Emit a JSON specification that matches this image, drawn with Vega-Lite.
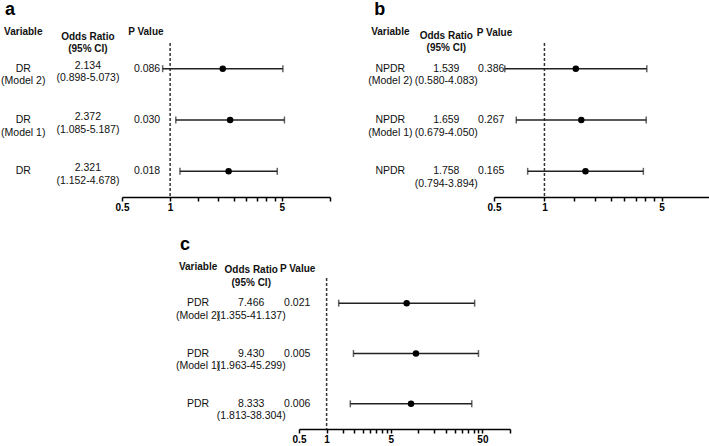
{
  "$schema": "https://vega.github.io/schema/vega-lite/v6.json",
  "padding": {"left": 1, "top": 0, "right": 0, "bottom": 0},
  "datasets": {
    "a": [
      {"row": "Model 2", "label": "DR\n(Model 2)", "or": 2.134, "lo": 0.898, "hi": 5.073, "ortext": "2.134\n(0.898-5.073)", "p": "0.086"},
      {"row": "Model 1", "label": "DR\n(Model 1)", "or": 2.372, "lo": 1.085, "hi": 5.187, "ortext": "2.372\n(1.085-5.187)", "p": "0.030"},
      {"row": "Crude", "label": "DR", "or": 2.321, "lo": 1.152, "hi": 4.678, "ortext": "2.321\n(1.152-4.678)", "p": "0.018"}
    ],
    "b": [
      {"row": "Model 2", "label": "NPDR\n(Model 2)", "or": 1.539, "lo": 0.580, "hi": 4.083, "ortext": "1.539\n(0.580-4.083)", "p": "0.386"},
      {"row": "Model 1", "label": "NPDR\n(Model 1)", "or": 1.659, "lo": 0.679, "hi": 4.050, "ortext": "1.659\n(0.679-4.050)", "p": "0.267"},
      {"row": "Crude", "label": "NPDR", "or": 1.758, "lo": 0.794, "hi": 3.894, "ortext": "1.758\n(0.794-3.894)", "p": "0.165"}
    ],
    "c": [
      {"row": "Model 2", "label": "PDR\n(Model 2)", "or": 7.466, "lo": 1.355, "hi": 41.137, "ortext": "7.466\n(1.355-41.137)", "p": "0.021"},
      {"row": "Model 1", "label": "PDR\n(Model 1)", "or": 9.430, "lo": 1.963, "hi": 45.299, "ortext": "9.430\n(1.963-45.299)", "p": "0.005"},
      {"row": "Crude", "label": "PDR", "or": 8.333, "lo": 1.813, "hi": 38.304, "ortext": "8.333\n(1.813-38.304)", "p": "0.006"}
    ]
  },
  "vconcat": [
    {
      "spacing": 37,
      "hconcat": [
        {
          "title": {"text": "a", "dx": 4},
          "width": 208, "height": 154,
          "data": {"name": "a"},
          "layer": [
            {"data": {"values": [{}]}, "mark": {"type": "rule", "strokeDash": [3, 2], "strokeWidth": 1.5, "color": "#333"},
             "encoding": {"x": {"datum": 1, "type": "quantitative", "scale": {"type": "log", "domain": [0.5, 10], "nice": false}, "axis": {"values": [0.5,1,1.5,2,2.5,3,3.5,4,4.5,5,10], "title": null, "labelExpr": "datum.value==0.5||datum.value==1||datum.value==5||datum.value==50?''+datum.value:''"}}}},
            {"mark": {"type": "rule", "strokeWidth": 1.5, "color": "#222"},
             "encoding": {"x": {"field": "lo", "type": "quantitative", "scale": {"type": "log", "domain": [0.5, 10], "nice": false}, "axis": {"values": [0.5,1,1.5,2,2.5,3,3.5,4,4.5,5,10], "title": null, "labelExpr": "datum.value==0.5||datum.value==1||datum.value==5||datum.value==50?''+datum.value:''"}}, "x2": {"field": "hi"},
              "y": {"field": "row", "type": "nominal", "sort": ["Model 2", "Model 1", "Crude"], "scale": {"type": "point", "padding": 0.5}, "axis": null}}},
            {"mark": {"type": "tick", "thickness": 1.5, "size": 7, "color": "#222"},
             "encoding": {"x": {"field": "lo", "type": "quantitative", "scale": {"type": "log", "domain": [0.5, 10], "nice": false}, "axis": {"values": [0.5,1,1.5,2,2.5,3,3.5,4,4.5,5,10], "title": null, "labelExpr": "datum.value==0.5||datum.value==1||datum.value==5||datum.value==50?''+datum.value:''"}},
              "y": {"field": "row", "type": "nominal", "sort": ["Model 2", "Model 1", "Crude"], "scale": {"type": "point", "padding": 0.5}, "axis": null}}},
            {"mark": {"type": "tick", "thickness": 1.5, "size": 7, "color": "#222"},
             "encoding": {"x": {"field": "hi", "type": "quantitative", "scale": {"type": "log", "domain": [0.5, 10], "nice": false}, "axis": {"values": [0.5,1,1.5,2,2.5,3,3.5,4,4.5,5,10], "title": null, "labelExpr": "datum.value==0.5||datum.value==1||datum.value==5||datum.value==50?''+datum.value:''"}},
              "y": {"field": "row", "type": "nominal", "sort": ["Model 2", "Model 1", "Crude"], "scale": {"type": "point", "padding": 0.5}, "axis": null}}},
            {"mark": {"type": "circle", "size": 42, "color": "#000", "opacity": 1},
             "encoding": {"x": {"field": "or", "type": "quantitative", "scale": {"type": "log", "domain": [0.5, 10], "nice": false}, "axis": {"values": [0.5,1,1.5,2,2.5,3,3.5,4,4.5,5,10], "title": null, "labelExpr": "datum.value==0.5||datum.value==1||datum.value==5||datum.value==50?''+datum.value:''"}},
              "y": {"field": "row", "type": "nominal", "sort": ["Model 2", "Model 1", "Crude"], "scale": {"type": "point", "padding": 0.5}, "axis": null}}},
            {"mark": {"type": "text", "lineBreak": "\n", "lineHeight": 12.5},
             "encoding": {"x": {"datum": 0.1206, "type": "quantitative", "scale": {"type": "log", "domain": [0.5, 10], "nice": false}, "axis": {"values": [0.5,1,1.5,2,2.5,3,3.5,4,4.5,5,10], "title": null, "labelExpr": "datum.value==0.5||datum.value==1||datum.value==5||datum.value==50?''+datum.value:''"}},
              "y": {"field": "row", "type": "nominal", "sort": ["Model 2", "Model 1", "Crude"], "scale": {"type": "point", "padding": 0.5}, "axis": null}, "text": {"field": "label"}}},
            {"mark": {"type": "text", "lineBreak": "\n", "lineHeight": 12.5, "dy": -3},
             "encoding": {"x": {"datum": 0.306, "type": "quantitative", "scale": {"type": "log", "domain": [0.5, 10], "nice": false}, "axis": {"values": [0.5,1,1.5,2,2.5,3,3.5,4,4.5,5,10], "title": null, "labelExpr": "datum.value==0.5||datum.value==1||datum.value==5||datum.value==50?''+datum.value:''"}},
              "y": {"field": "row", "type": "nominal", "sort": ["Model 2", "Model 1", "Crude"], "scale": {"type": "point", "padding": 0.5}, "axis": null}, "text": {"field": "ortext"}}},
            {"mark": {"type": "text"},
             "encoding": {"x": {"datum": 0.717, "type": "quantitative", "scale": {"type": "log", "domain": [0.5, 10], "nice": false}, "axis": {"values": [0.5,1,1.5,2,2.5,3,3.5,4,4.5,5,10], "title": null, "labelExpr": "datum.value==0.5||datum.value==1||datum.value==5||datum.value==50?''+datum.value:''"}},
              "y": {"field": "row", "type": "nominal", "sort": ["Model 2", "Model 1", "Crude"], "scale": {"type": "point", "padding": 0.5}, "axis": null}, "text": {"field": "p"}}},
            {"data": {"values": [{}]}, "mark": {"type": "text", "fontWeight": "bold", "fontSize": 10, "dy": -37},
             "encoding": {"x": {"datum": 0.1206, "type": "quantitative", "scale": {"type": "log", "domain": [0.5, 10], "nice": false}, "axis": {"values": [0.5,1,1.5,2,2.5,3,3.5,4,4.5,5,10], "title": null, "labelExpr": "datum.value==0.5||datum.value==1||datum.value==5||datum.value==50?''+datum.value:''"}},
              "y": {"datum": "Model 2", "type": "nominal", "sort": ["Model 2", "Model 1", "Crude"], "scale": {"type": "point", "padding": 0.5}, "axis": null}, "text": {"value": "Variable"}}},
            {"data": {"values": [{}]}, "mark": {"type": "text", "fontWeight": "bold", "fontSize": 10, "dy": -32, "lineBreak": "\n", "lineHeight": 12.5},
             "encoding": {"x": {"datum": 0.306, "type": "quantitative", "scale": {"type": "log", "domain": [0.5, 10], "nice": false}, "axis": {"values": [0.5,1,1.5,2,2.5,3,3.5,4,4.5,5,10], "title": null, "labelExpr": "datum.value==0.5||datum.value==1||datum.value==5||datum.value==50?''+datum.value:''"}},
              "y": {"datum": "Model 2", "type": "nominal", "sort": ["Model 2", "Model 1", "Crude"], "scale": {"type": "point", "padding": 0.5}, "axis": null}, "text": {"value": "Odds Ratio\n(95% CI)"}}},
            {"data": {"values": [{}]}, "mark": {"type": "text", "fontWeight": "bold", "fontSize": 10, "dy": -37},
             "encoding": {"x": {"datum": 0.705, "type": "quantitative", "scale": {"type": "log", "domain": [0.5, 10], "nice": false}, "axis": {"values": [0.5,1,1.5,2,2.5,3,3.5,4,4.5,5,10], "title": null, "labelExpr": "datum.value==0.5||datum.value==1||datum.value==5||datum.value==50?''+datum.value:''"}},
              "y": {"datum": "Model 2", "type": "nominal", "sort": ["Model 2", "Model 1", "Crude"], "scale": {"type": "point", "padding": 0.5}, "axis": null}, "text": {"value": "P Value"}}}
          ]
        },
        {
          "title": {"text": "b", "dx": 6},
          "width": 218, "height": 154,
          "data": {"name": "b"},
          "layer": [
            {"data": {"values": [{}]}, "mark": {"type": "rule", "strokeDash": [3, 2], "strokeWidth": 1.5, "color": "#333"},
             "encoding": {"x": {"datum": 1, "type": "quantitative", "scale": {"type": "log", "domain": [0.5, 10], "nice": false}, "axis": {"values": [0.5,1,1.5,2,2.5,3,3.5,4,4.5,5,10], "title": null, "labelExpr": "datum.value==0.5||datum.value==1||datum.value==5||datum.value==50?''+datum.value:''"}}}},
            {"mark": {"type": "rule", "strokeWidth": 1.5, "color": "#222"},
             "encoding": {"x": {"field": "lo", "type": "quantitative", "scale": {"type": "log", "domain": [0.5, 10], "nice": false}, "axis": {"values": [0.5,1,1.5,2,2.5,3,3.5,4,4.5,5,10], "title": null, "labelExpr": "datum.value==0.5||datum.value==1||datum.value==5||datum.value==50?''+datum.value:''"}}, "x2": {"field": "hi"},
              "y": {"field": "row", "type": "nominal", "sort": ["Model 2", "Model 1", "Crude"], "scale": {"type": "point", "padding": 0.5}, "axis": null}}},
            {"mark": {"type": "tick", "thickness": 1.5, "size": 7, "color": "#222"},
             "encoding": {"x": {"field": "lo", "type": "quantitative", "scale": {"type": "log", "domain": [0.5, 10], "nice": false}, "axis": {"values": [0.5,1,1.5,2,2.5,3,3.5,4,4.5,5,10], "title": null, "labelExpr": "datum.value==0.5||datum.value==1||datum.value==5||datum.value==50?''+datum.value:''"}},
              "y": {"field": "row", "type": "nominal", "sort": ["Model 2", "Model 1", "Crude"], "scale": {"type": "point", "padding": 0.5}, "axis": null}}},
            {"mark": {"type": "tick", "thickness": 1.5, "size": 7, "color": "#222"},
             "encoding": {"x": {"field": "hi", "type": "quantitative", "scale": {"type": "log", "domain": [0.5, 10], "nice": false}, "axis": {"values": [0.5,1,1.5,2,2.5,3,3.5,4,4.5,5,10], "title": null, "labelExpr": "datum.value==0.5||datum.value==1||datum.value==5||datum.value==50?''+datum.value:''"}},
              "y": {"field": "row", "type": "nominal", "sort": ["Model 2", "Model 1", "Crude"], "scale": {"type": "point", "padding": 0.5}, "axis": null}}},
            {"mark": {"type": "circle", "size": 42, "color": "#000", "opacity": 1},
             "encoding": {"x": {"field": "or", "type": "quantitative", "scale": {"type": "log", "domain": [0.5, 10], "nice": false}, "axis": {"values": [0.5,1,1.5,2,2.5,3,3.5,4,4.5,5,10], "title": null, "labelExpr": "datum.value==0.5||datum.value==1||datum.value==5||datum.value==50?''+datum.value:''"}},
              "y": {"field": "row", "type": "nominal", "sort": ["Model 2", "Model 1", "Crude"], "scale": {"type": "point", "padding": 0.5}, "axis": null}}},
            {"mark": {"type": "text", "lineBreak": "\n", "lineHeight": 12.5},
             "encoding": {"x": {"datum": 0.1203, "type": "quantitative", "scale": {"type": "log", "domain": [0.5, 10], "nice": false}, "axis": {"values": [0.5,1,1.5,2,2.5,3,3.5,4,4.5,5,10], "title": null, "labelExpr": "datum.value==0.5||datum.value==1||datum.value==5||datum.value==50?''+datum.value:''"}},
              "y": {"field": "row", "type": "nominal", "sort": ["Model 2", "Model 1", "Crude"], "scale": {"type": "point", "padding": 0.5}, "axis": null}, "text": {"field": "label"}}},
            {"mark": {"type": "text", "lineBreak": "\n", "lineHeight": 12.5},
             "encoding": {"x": {"datum": 0.2596, "type": "quantitative", "scale": {"type": "log", "domain": [0.5, 10], "nice": false}, "axis": {"values": [0.5,1,1.5,2,2.5,3,3.5,4,4.5,5,10], "title": null, "labelExpr": "datum.value==0.5||datum.value==1||datum.value==5||datum.value==50?''+datum.value:''"}},
              "y": {"field": "row", "type": "nominal", "sort": ["Model 2", "Model 1", "Crude"], "scale": {"type": "point", "padding": 0.5}, "axis": null}, "text": {"field": "ortext"}}},
            {"mark": {"type": "text"},
             "encoding": {"x": {"datum": 0.4814, "type": "quantitative", "scale": {"type": "log", "domain": [0.5, 10], "nice": false}, "axis": {"values": [0.5,1,1.5,2,2.5,3,3.5,4,4.5,5,10], "title": null, "labelExpr": "datum.value==0.5||datum.value==1||datum.value==5||datum.value==50?''+datum.value:''"}},
              "y": {"field": "row", "type": "nominal", "sort": ["Model 2", "Model 1", "Crude"], "scale": {"type": "point", "padding": 0.5}, "axis": null}, "text": {"field": "p"}}},
            {"data": {"values": [{}]}, "mark": {"type": "text", "fontWeight": "bold", "fontSize": 10, "dy": -37},
             "encoding": {"x": {"datum": 0.1203, "type": "quantitative", "scale": {"type": "log", "domain": [0.5, 10], "nice": false}, "axis": {"values": [0.5,1,1.5,2,2.5,3,3.5,4,4.5,5,10], "title": null, "labelExpr": "datum.value==0.5||datum.value==1||datum.value==5||datum.value==50?''+datum.value:''"}},
              "y": {"datum": "Model 2", "type": "nominal", "sort": ["Model 2", "Model 1", "Crude"], "scale": {"type": "point", "padding": 0.5}, "axis": null}, "text": {"value": "Variable"}}},
            {"data": {"values": [{}]}, "mark": {"type": "text", "fontWeight": "bold", "fontSize": 10, "dy": -33, "lineBreak": "\n", "lineHeight": 12.5},
             "encoding": {"x": {"datum": 0.2596, "type": "quantitative", "scale": {"type": "log", "domain": [0.5, 10], "nice": false}, "axis": {"values": [0.5,1,1.5,2,2.5,3,3.5,4,4.5,5,10], "title": null, "labelExpr": "datum.value==0.5||datum.value==1||datum.value==5||datum.value==50?''+datum.value:''"}},
              "y": {"datum": "Model 2", "type": "nominal", "sort": ["Model 2", "Model 1", "Crude"], "scale": {"type": "point", "padding": 0.5}, "axis": null}, "text": {"value": "Odds Ratio\n(95% CI)"}}},
            {"data": {"values": [{}]}, "mark": {"type": "text", "fontWeight": "bold", "fontSize": 10, "dy": -36},
             "encoding": {"x": {"datum": 0.5036, "type": "quantitative", "scale": {"type": "log", "domain": [0.5, 10], "nice": false}, "axis": {"values": [0.5,1,1.5,2,2.5,3,3.5,4,4.5,5,10], "title": null, "labelExpr": "datum.value==0.5||datum.value==1||datum.value==5||datum.value==50?''+datum.value:''"}},
              "y": {"datum": "Model 2", "type": "nominal", "sort": ["Model 2", "Model 1", "Crude"], "scale": {"type": "point", "padding": 0.5}, "axis": null}, "text": {"value": "P Value"}}}
          ]
        }
      ]
    },
    {
      "spacing": 0,
      "hconcat": [
        {"width": 53, "height": 10, "data": {"values": [{}]}, "mark": {"type": "rule", "opacity": 0}, "encoding": {}},
        {
          "title": {"text": "c", "dx": 4},
          "width": 211, "height": 151,
          "data": {"name": "c"},
          "layer": [
            {"data": {"values": [{}]}, "mark": {"type": "rule", "strokeDash": [3, 2], "strokeWidth": 1.5, "color": "#333"},
             "encoding": {"x": {"datum": 1, "type": "quantitative", "scale": {"type": "log", "domain": [0.5, 100], "nice": false}, "axis": {"values": [0.5,1,1.5,2,2.5,3,3.5,4,4.5,5,10,15,20,25,30,35,40,45,50,100], "title": null, "labelExpr": "datum.value==0.5||datum.value==1||datum.value==5||datum.value==50?''+datum.value:''"}}}},
            {"mark": {"type": "rule", "strokeWidth": 1.5, "color": "#222"},
             "encoding": {"x": {"field": "lo", "type": "quantitative", "scale": {"type": "log", "domain": [0.5, 100], "nice": false}, "axis": {"values": [0.5,1,1.5,2,2.5,3,3.5,4,4.5,5,10,15,20,25,30,35,40,45,50,100], "title": null, "labelExpr": "datum.value==0.5||datum.value==1||datum.value==5||datum.value==50?''+datum.value:''"}}, "x2": {"field": "hi"},
              "y": {"field": "row", "type": "nominal", "sort": ["Model 2", "Model 1", "Crude"], "scale": {"type": "point", "padding": 0.5}, "axis": null}}},
            {"mark": {"type": "tick", "thickness": 1.5, "size": 7, "color": "#222"},
             "encoding": {"x": {"field": "lo", "type": "quantitative", "scale": {"type": "log", "domain": [0.5, 100], "nice": false}, "axis": {"values": [0.5,1,1.5,2,2.5,3,3.5,4,4.5,5,10,15,20,25,30,35,40,45,50,100], "title": null, "labelExpr": "datum.value==0.5||datum.value==1||datum.value==5||datum.value==50?''+datum.value:''"}},
              "y": {"field": "row", "type": "nominal", "sort": ["Model 2", "Model 1", "Crude"], "scale": {"type": "point", "padding": 0.5}, "axis": null}}},
            {"mark": {"type": "tick", "thickness": 1.5, "size": 7, "color": "#222"},
             "encoding": {"x": {"field": "hi", "type": "quantitative", "scale": {"type": "log", "domain": [0.5, 100], "nice": false}, "axis": {"values": [0.5,1,1.5,2,2.5,3,3.5,4,4.5,5,10,15,20,25,30,35,40,45,50,100], "title": null, "labelExpr": "datum.value==0.5||datum.value==1||datum.value==5||datum.value==50?''+datum.value:''"}},
              "y": {"field": "row", "type": "nominal", "sort": ["Model 2", "Model 1", "Crude"], "scale": {"type": "point", "padding": 0.5}, "axis": null}}},
            {"mark": {"type": "circle", "size": 42, "color": "#000", "opacity": 1},
             "encoding": {"x": {"field": "or", "type": "quantitative", "scale": {"type": "log", "domain": [0.5, 100], "nice": false}, "axis": {"values": [0.5,1,1.5,2,2.5,3,3.5,4,4.5,5,10,15,20,25,30,35,40,45,50,100], "title": null, "labelExpr": "datum.value==0.5||datum.value==1||datum.value==5||datum.value==50?''+datum.value:''"}},
              "y": {"field": "row", "type": "nominal", "sort": ["Model 2", "Model 1", "Crude"], "scale": {"type": "point", "padding": 0.5}, "axis": null}}},
            {"mark": {"type": "text", "lineBreak": "\n", "lineHeight": 12.5},
             "encoding": {"x": {"datum": 0.0397, "type": "quantitative", "scale": {"type": "log", "domain": [0.5, 100], "nice": false}, "axis": {"values": [0.5,1,1.5,2,2.5,3,3.5,4,4.5,5,10,15,20,25,30,35,40,45,50,100], "title": null, "labelExpr": "datum.value==0.5||datum.value==1||datum.value==5||datum.value==50?''+datum.value:''"}},
              "y": {"field": "row", "type": "nominal", "sort": ["Model 2", "Model 1", "Crude"], "scale": {"type": "point", "padding": 0.5}, "axis": null}, "text": {"field": "label"}}},
            {"mark": {"type": "text", "lineBreak": "\n", "lineHeight": 12.5},
             "encoding": {"x": {"datum": 0.1507, "type": "quantitative", "scale": {"type": "log", "domain": [0.5, 100], "nice": false}, "axis": {"values": [0.5,1,1.5,2,2.5,3,3.5,4,4.5,5,10,15,20,25,30,35,40,45,50,100], "title": null, "labelExpr": "datum.value==0.5||datum.value==1||datum.value==5||datum.value==50?''+datum.value:''"}},
              "y": {"field": "row", "type": "nominal", "sort": ["Model 2", "Model 1", "Crude"], "scale": {"type": "point", "padding": 0.5}, "axis": null}, "text": {"field": "ortext"}}},
            {"mark": {"type": "text"},
             "encoding": {"x": {"datum": 0.4786, "type": "quantitative", "scale": {"type": "log", "domain": [0.5, 100], "nice": false}, "axis": {"values": [0.5,1,1.5,2,2.5,3,3.5,4,4.5,5,10,15,20,25,30,35,40,45,50,100], "title": null, "labelExpr": "datum.value==0.5||datum.value==1||datum.value==5||datum.value==50?''+datum.value:''"}},
              "y": {"field": "row", "type": "nominal", "sort": ["Model 2", "Model 1", "Crude"], "scale": {"type": "point", "padding": 0.5}, "axis": null}, "text": {"field": "p"}}},
            {"data": {"values": [{}]}, "mark": {"type": "text", "fontWeight": "bold", "fontSize": 10, "dy": -36},
             "encoding": {"x": {"datum": 0.0397, "type": "quantitative", "scale": {"type": "log", "domain": [0.5, 100], "nice": false}, "axis": {"values": [0.5,1,1.5,2,2.5,3,3.5,4,4.5,5,10,15,20,25,30,35,40,45,50,100], "title": null, "labelExpr": "datum.value==0.5||datum.value==1||datum.value==5||datum.value==50?''+datum.value:''"}},
              "y": {"datum": "Model 2", "type": "nominal", "sort": ["Model 2", "Model 1", "Crude"], "scale": {"type": "point", "padding": 0.5}, "axis": null}, "text": {"value": "Variable"}}},
            {"data": {"values": [{}]}, "mark": {"type": "text", "fontWeight": "bold", "fontSize": 10, "dy": -33, "lineBreak": "\n", "lineHeight": 12.5},
             "encoding": {"x": {"datum": 0.1507, "type": "quantitative", "scale": {"type": "log", "domain": [0.5, 100], "nice": false}, "axis": {"values": [0.5,1,1.5,2,2.5,3,3.5,4,4.5,5,10,15,20,25,30,35,40,45,50,100], "title": null, "labelExpr": "datum.value==0.5||datum.value==1||datum.value==5||datum.value==50?''+datum.value:''"}},
              "y": {"datum": "Model 2", "type": "nominal", "sort": ["Model 2", "Model 1", "Crude"], "scale": {"type": "point", "padding": 0.5}, "axis": null}, "text": {"value": "Odds Ratio\n(95% CI)"}}},
            {"data": {"values": [{}]}, "mark": {"type": "text", "fontWeight": "bold", "fontSize": 10, "dy": -34},
             "encoding": {"x": {"datum": 0.4838, "type": "quantitative", "scale": {"type": "log", "domain": [0.5, 100], "nice": false}, "axis": {"values": [0.5,1,1.5,2,2.5,3,3.5,4,4.5,5,10,15,20,25,30,35,40,45,50,100], "title": null, "labelExpr": "datum.value==0.5||datum.value==1||datum.value==5||datum.value==50?''+datum.value:''"}},
              "y": {"datum": "Model 2", "type": "nominal", "sort": ["Model 2", "Model 1", "Crude"], "scale": {"type": "point", "padding": 0.5}, "axis": null}, "text": {"value": "P Value"}}}
          ]
        }
      ]
    }
  ],
  "spacing": 24,
  "config": {
    "view": {"stroke": null},
    "font": "Liberation Sans",
    "text": {"font": "Liberation Sans", "fontSize": 10.5, "color": "#111", "align": "center", "baseline": "middle"},
    "title": {"font": "Liberation Sans", "fontSize": 18, "fontWeight": "bold", "color": "#000", "anchor": "start", "frame": "bounds", "offset": 6, "dy": -2},
    "axisX": {"domainColor": "#000", "domainWidth": 1.5, "tickColor": "#000", "tickWidth": 1.5, "tickSize": 4, "labelFont": "Liberation Sans", "labelFontSize": 10, "labelFontWeight": "bold", "labelColor": "#000", "labelPadding": 1, "labelOverlap": false, "labelFlush": false, "grid": false}
  }
}
